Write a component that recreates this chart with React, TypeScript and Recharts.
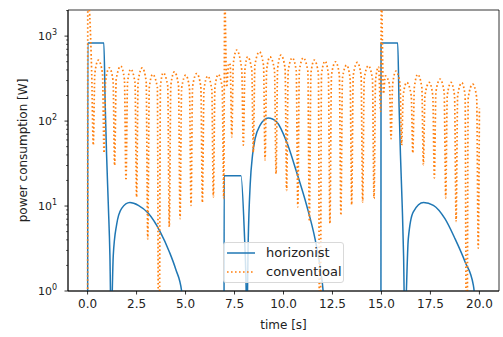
import { LineChart, Line, XAxis, YAxis, Legend, ReferenceArea } from 'recharts';

// 0 W cannot sit on a log axis, so zeros are drawn just below the frame
const FLOOR = 0.01;

const horizonistTime = [
  0, 0.01, 0.83, 0.9, 0.97, 1.06, 1.14, 1.2, 1.31, 1.48, 1.74, 2.16, 2.59, 3.1, 3.7, 4.17, 4.5, 4.8, 4.88,
  6.96, 6.97, 7.83, 8.0, 8.08, 8.13, 8.2, 8.3, 8.42, 8.55, 8.8, 9.22, 9.65, 10.16, 10.67, 11.18, 11.61, 11.9, 12.05, 12.12,
  14.97, 14.98, 15.83, 15.9, 15.97, 16.06, 16.13, 16.19, 16.37, 16.62, 17.15, 17.65, 18.24, 18.76, 19.27, 19.69, 19.8, 19.9, 20,
];
const horizonistPower = [
  0, 830, 830, 150, 40, 10, 2.6, 0.4, 2.6, 6, 9.4, 11, 10.2, 8.2, 5, 2.9, 1.8, 1, 0,
  0, 22.8, 22.8, 5, 1.5, 0.4, 4, 18, 40, 62, 89, 109, 98, 57, 25, 10.2, 4.1, 1.7, 0.8, 0,
  0, 830, 830, 150, 40, 10, 2.6, 0.4, 4.1, 8.5, 11, 10.2, 7.1, 4.1, 2.2, 1.17, 0.6, 0, 0,
];

const conventionalTime = [
  0, 0.01, 0.21, 0.29, 0.37, 0.55, 0.76, 0.84, 0.92, 1.11, 1.3, 1.38, 1.46, 1.69, 1.88, 1.96, 2.04, 2.2,
  2.42, 2.5, 2.58, 2.79, 2.99, 3.07, 3.15, 3.32, 3.56, 3.64, 3.72, 3.86, 4.09, 4.17, 4.25, 4.43, 4.64, 4.72,
  4.8, 5.01, 5.2, 5.28, 5.36, 5.57, 5.78, 5.86, 5.94, 6.13, 6.34, 6.42, 6.5, 6.67, 6.87, 6.95,
  7.0, 7.1, 7.2, 7.28, 7.36, 7.44, 7.61, 7.87, 7.95, 8.03, 8.17, 8.38, 8.46, 8.54, 8.77, 8.98, 9.06,
  9.14, 9.31, 9.54, 9.62, 9.7, 9.87, 10.08, 10.16, 10.24, 10.45, 10.65, 10.73, 10.81, 11.01, 11.24, 11.32,
  11.4, 11.57, 11.78, 11.86, 11.94, 12.12, 12.29, 12.37, 12.45, 12.66, 12.85, 12.93, 13.01, 13.22, 13.4, 13.48,
  13.56, 13.77, 13.96, 14.04, 14.12, 14.33, 14.54, 14.62, 14.7, 14.85, 14.96,
  15.0, 15.1, 15.2, 15.41, 15.49, 15.57, 15.74, 15.95, 16.03, 16.11, 16.29, 16.52, 16.6, 16.68, 16.85,
  17.06, 17.14, 17.22, 17.44, 17.62, 17.7, 17.78, 17.99, 18.2, 18.28, 18.36, 18.55, 18.73, 18.81, 18.89,
  19.1, 19.27, 19.35, 19.43, 19.66, 19.86, 19.94, 20,
];
const conventionalPower = [
  0, 3000, 360, 52, 365, 521, 365, 42, 300, 423, 300, 30, 310, 443, 310, 20, 285, 408,
  285, 12.8, 295, 423, 295, 4.1, 250, 354, 250, 0, 260, 370, 260, 5.7, 265, 380, 265, 7.1,
  245, 347, 245, 10.2, 255, 363, 255, 11, 235, 338, 235, 12.8, 250, 354, 250, 12.3,
  3000, 250, 480, 460, 65, 480, 684, 400, 52, 400, 570, 400, 43, 455, 653, 455, 35,
  400, 570, 400, 24, 420, 597, 420, 15.3, 390, 555, 390, 9.8, 390, 555, 390, 6.6,
  365, 521, 365, 0, 355, 508, 355, 6.2, 350, 498, 350, 7.8, 320, 455, 320, 10.4,
  345, 490, 345, 11.2, 315, 447, 315, 12.3, 305, 435, 130,
  3000, 210, 340, 270, 62, 270, 387, 270, 52, 200, 285, 200, 42, 250, 354,
  250, 30.8, 200, 285, 200, 21.4, 220, 312, 220, 12.5, 200, 285, 200, 6.6, 200,
  282, 200, 0, 190, 272, 190, 3.2, 141,
];

const xTicks = [0, 2.5, 5, 7.5, 10, 12.5, 15, 17.5, 20];
const yTicks = [
  1, 2, 3, 4, 5, 6, 7, 8, 9, 10, 20, 30, 40, 50, 60, 70, 80, 90,
  100, 200, 300, 400, 500, 600, 700, 800, 900, 1000, 2000,
];
const decades = [1, 10, 100, 1000];

const toRows = (time: number[], power: number[]) =>
  time.map((t, i) => ({ t, p: Math.max(power[i], FLOOR) }));

const series = [
  { name: 'horizonist', color: '#1f77b4', width: 1.5, dash: undefined, data: toRows(horizonistTime, horizonistPower) },
  { name: 'conventioal', color: '#ff7f0e', width: 1.7, dash: '1.6 2.4', data: toRows(conventionalTime, conventionalPower) },
];

const LogTick = ({ x, y, payload }: any) => {
  const v = payload.value;
  const major = decades.includes(v);
  return (
    <g>
      <line x1={x} x2={x - (major ? 3.5 : 2)} y1={y} y2={y} stroke="#000" strokeWidth={major ? 0.8 : 0.6} />
      {major && (
        <text x={x - 11} y={y + 4} textAnchor="end" fontSize={11} fill="#222">
          10
          <tspan dy={-5} fontSize={8}>
            {Math.round(Math.log10(v))}
          </tspan>
        </text>
      )}
    </g>
  );
};

const YTitle = ({ viewBox }: any) => {
  const cx = viewBox.x + 23;
  const cy = viewBox.y + viewBox.height / 2;
  return (
    <text x={cx} y={cy} transform={`rotate(-90 ${cx} ${cy})`} textAnchor="middle" dominantBaseline="central" fontSize={12} fill="#222">
      power consumption [W]
    </text>
  );
};

const XTitle = ({ viewBox }: any) => (
  <text x={viewBox.x + viewBox.width / 2} y={329} textAnchor="middle" fontSize={12} fill="#222">
    time [s]
  </text>
);

const renderLegend = () => (
  <div
    style={{
      width: 121,
      height: 41,
      boxSizing: 'border-box',
      border: '1px solid #d9d9d9',
      borderRadius: 3,
      background: 'rgba(255,255,255,0.8)',
      position: 'relative',
    }}
  >
    {series.map((s, i) => (
      <div
        key={s.name}
        style={{ position: 'absolute', left: 3, top: 3 + i * 19, height: 13, display: 'flex', alignItems: 'center' }}
      >
        <svg width={28} height={4}>
          <line x1={0} x2={28} y1={2} y2={2} stroke={s.color} strokeWidth={s.width} strokeDasharray={s.dash} />
        </svg>
        <span style={{ marginLeft: 11, fontSize: 13, color: '#222', lineHeight: '13px' }}>{s.name}</span>
      </div>
    ))}
  </div>
);

export default function App() {
  return (
    <div style={{ position: 'absolute', left: 0, top: 0, width: 503, height: 337, background: '#fff', fontFamily: 'DejaVu Sans' }}>
      <LineChart width={503} height={337} margin={{ top: 10, right: 4, bottom: 0, left: 0 }}>
        <XAxis
          dataKey="t"
          type="number"
          domain={[-1, 21]}
          allowDataOverflow
          ticks={xTicks}
          tickFormatter={(v: number) => v.toFixed(1)}
          tick={{ fill: '#222', fontSize: 12 }}
          tickSize={3.5}
          tickMargin={5}
          height={46}
          stroke="#000"
          strokeWidth={0.8}
          label={<XTitle />}
        />
        <YAxis
          scale="log"
          domain={[1, 2030]}
          allowDataOverflow
          ticks={yTicks}
          interval={0}
          tick={<LogTick />}
          tickLine={false}
          tickSize={0}
          tickMargin={0}
          width={68}
          stroke="#000"
          strokeWidth={0.8}
          label={<YTitle />}
        />
        {series.map((s) => (
          <Line
            key={s.name}
            data={s.data}
            dataKey="p"
            name={s.name}
            type="monotone"
            stroke={s.color}
            strokeWidth={s.width}
            strokeDasharray={s.dash}
            dot={false}
            activeDot={false}
            isAnimationActive={false}
          />
        ))}
        <ReferenceArea x1={-1} x2={21} y1={1} y2={2030} fill="none" stroke="#000" strokeWidth={0.8} />
        <Legend
          layout="vertical"
          align="center"
          verticalAlign="middle"
          content={renderLegend}
          wrapperStyle={{ left: 223, top: 242, width: 121, height: 41 }}
        />
      </LineChart>
    </div>
  );
}
